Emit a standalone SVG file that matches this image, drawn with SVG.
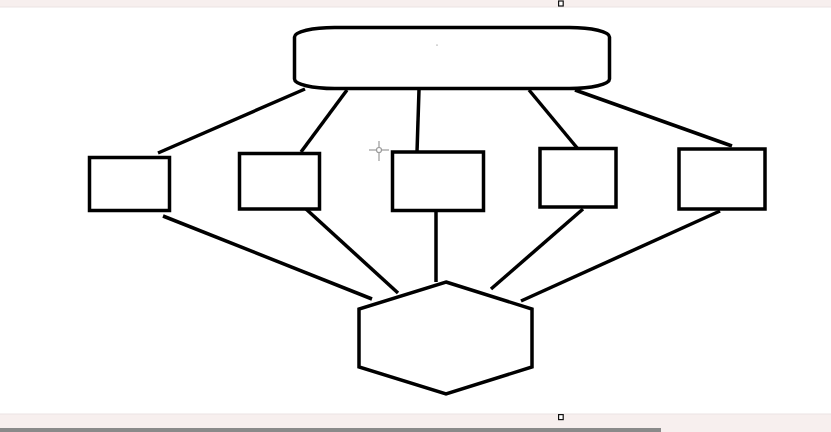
<svg xmlns="http://www.w3.org/2000/svg" width="831" height="432" viewBox="0 0 831 432">
<style>
.n{fill:#fff;stroke:#000;stroke-width:3.5;stroke-linejoin:miter}
.c line{stroke:#000;stroke-width:3.5;stroke-linecap:butt}
.ui{fill:#f7efee}
.h{fill:#fff;stroke:#111;stroke-width:1.2}
</style>
<rect x="0" y="0" width="831" height="432" fill="#fff"/>
<rect class="ui" x="0" y="0" width="831" height="7"/>
<rect class="ui" x="0" y="414" width="831" height="18"/>
<line x1="0" y1="7" x2="831" y2="7" stroke="#ebe3e3" stroke-width="1"/>
<line x1="0" y1="414" x2="831" y2="414" stroke="#ebe3e3" stroke-width="1"/>
<rect x="0" y="428" width="661" height="4" fill="#8a8a8a"/>
<rect class="h" x="558.6" y="1" width="4.6" height="5"/>
<rect class="h" x="558.6" y="414.6" width="4.6" height="5"/>
<g id="connectors" class="c">
<line x1="158" y1="153" x2="305" y2="89"/>
<line x1="301" y1="152" x2="347" y2="90"/>
<line x1="417" y1="152" x2="419" y2="90"/>
<line x1="578" y1="149" x2="529" y2="90"/>
<line x1="732" y1="146" x2="575" y2="90"/>
<line x1="163" y1="216" x2="372" y2="299"/>
<line x1="306" y1="209" x2="398" y2="293"/>
<line x1="436" y1="211" x2="436" y2="282"/>
<line x1="583" y1="209" x2="491" y2="289"/>
<line x1="720" y1="211" x2="521" y2="301"/>
</g>
<g id="top">
<rect class="n" x="294.5" y="27.5" width="315" height="61" rx="40" ry="9.5"/>
<circle cx="437" cy="45" r="0.6" fill="#666"/>
</g>
<g id="box1"><rect class="n" x="89.5" y="157.5" width="80" height="53"/></g>
<g id="box2"><rect class="n" x="239.5" y="153.5" width="80" height="55.5"/></g>
<g id="box3"><rect class="n" x="392.5" y="152" width="91" height="58.5"/></g>
<g id="box4"><rect class="n" x="540" y="148.5" width="76" height="58.5"/></g>
<g id="box5"><rect class="n" x="679" y="149" width="86" height="60"/></g>
<g id="hex"><polygon class="n" points="446,282 532,309 532,367 446,394 359,367 359,309"/></g>
<g id="cursor" stroke="#9a9a9a" stroke-width="1.2" fill="none">
<line x1="369" y1="150" x2="376.5" y2="150"/>
<line x1="381.5" y1="150" x2="389" y2="150"/>
<line x1="379" y1="141" x2="379" y2="147.5"/>
<line x1="379" y1="152.5" x2="379" y2="161"/>
<circle cx="379" cy="150" r="2.5"/>
</g>
</svg>
